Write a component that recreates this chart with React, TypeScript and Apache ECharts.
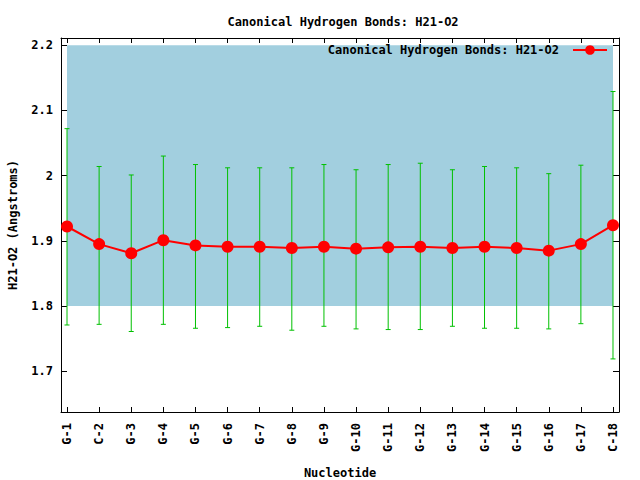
import React, { useEffect, useRef } from "react";
import * as echarts from "echarts";

const categories = ["G-1","C-2","G-3","G-4","G-5","G-6","G-7","G-8","G-9","G-10","G-11","G-12","G-13","G-14","G-15","G-16","G-17","C-18"];
const means = [1.922,1.895,1.881,1.901,1.893,1.891,1.891,1.889,1.891,1.888,1.890,1.891,1.889,1.891,1.889,1.885,1.895,1.924];
const lows = [1.771,1.772,1.761,1.772,1.766,1.767,1.769,1.763,1.769,1.765,1.764,1.764,1.769,1.766,1.766,1.765,1.773,1.719];
const highs = [2.072,2.014,2.001,2.030,2.017,2.012,2.012,2.012,2.017,2.009,2.017,2.019,2.009,2.014,2.012,2.003,2.016,2.129];
const yTicks = [1.7, 1.8, 1.9, 2.0, 2.1, 2.2];
const bandRange = [1.8, 2.2];
const title = "Canonical Hydrogen Bonds: H21-O2";

const FONT = "DejaVu Sans Mono";

export default function App() {
  const ref = useRef<HTMLDivElement>(null);
  useEffect(() => {
    if (!ref.current) return;
    const chart = echarts.init(ref.current, undefined, { renderer: "svg" });
    const xIdx = categories.map((_, i) => i);
    const xMin = -0.187, xMax = categories.length - 1 + 0.187;
    const yMin = 1.6376, yMax = 2.211;
    const txt = { fontFamily: FONT, fontWeight: "bold" as const, fontSize: 12, color: "#000" };
    const xCommon = {
      type: "value" as const,
      min: xMin,
      max: xMax,
      splitLine: { show: false },
      axisLine: { show: true, onZero: false, lineStyle: { color: "#000", width: 1 } },
      axisTick: { show: true, inside: true, length: 5, customValues: xIdx, lineStyle: { color: "#000" } },
    };
    const yCommon = {
      type: "value" as const,
      min: yMin,
      max: yMax,
      splitLine: { show: false },
      axisLine: { show: true, onZero: false, lineStyle: { color: "#000", width: 1 } },
      axisTick: { show: true, inside: true, length: 6, customValues: yTicks, lineStyle: { color: "#000" } },
    };
    chart.setOption({
      animation: false,
      backgroundColor: "#fff",
      title: {
        text: title,
        left: 338,
        textAlign: "center",
        top: 11,
        textStyle: { ...txt },
      },
      legend: {
        data: [{ name: title }],
        right: 27,
        top: 39,
        align: "right",
        itemWidth: 34,
        itemHeight: 12,
        itemGap: 0,
        textStyle: { ...txt, padding: [0, 9, 0, 0] },
      },
      grid: { left: 61, right: 21, top: 38, bottom: 68, containLabel: false, outerBoundsMode: "none" },
      xAxis: [
        {
          ...xCommon,
          position: "bottom",
          name: "Nucleotide",
          nameLocation: "middle",
          nameGap: 55,
          nameTextStyle: { ...txt },
          axisLabel: {
            ...txt,
            rotate: 90,
            margin: 11,
            customValues: xIdx,
            formatter: (v: number) => categories[Math.round(v)] ?? "",
          },
        },
        { ...xCommon, position: "top", axisLabel: { show: false } },
      ],
      yAxis: [
        {
          ...yCommon,
          position: "left",
          name: "H21-O2 (Angstroms)",
          nameLocation: "middle",
          nameGap: 42,
          nameTextStyle: { ...txt },
          axisLabel: {
            ...txt,
            margin: 8,
            customValues: yTicks,
            formatter: (v: number) => String(parseFloat(v.toFixed(1))),
          },
        },
        { ...yCommon, position: "right", axisLabel: { show: false } },
      ],
      series: [
        {
          name: "band",
          type: "line",
          data: [],
          z: 1,
          markArea: {
            silent: true,
            itemStyle: { color: "#a2cfdf" },
            data: [[{ coord: [0, bandRange[1]] }, { coord: [categories.length - 1, bandRange[0]] }]],
          },
        },
        {
          name: "err",
          type: "custom",
          z: 3,
          data: xIdx.map((i) => [i, lows[i], highs[i]]),
          encode: { x: 0, y: [1, 2] },
          renderItem: (params: any, api: any) => {
            const x = api.value(0);
            const lo = api.coord([x, api.value(1)]);
            const hi = api.coord([x, api.value(2)]);
            const w = 2.5;
            const style = { stroke: "#00c000", lineWidth: 1 };
            return {
              type: "group",
              children: [
                { type: "line", shape: { x1: lo[0], y1: lo[1], x2: hi[0], y2: hi[1] }, style },
                { type: "line", shape: { x1: lo[0] - w, y1: lo[1], x2: lo[0] + w, y2: lo[1] }, style },
                { type: "line", shape: { x1: hi[0] - w, y1: hi[1], x2: hi[0] + w, y2: hi[1] }, style },
              ],
            };
          },
        },
        {
          name: title,
          type: "line",
          z: 5,
          data: xIdx.map((i) => [i, means[i]]),
          symbol: "circle",
          symbolSize: 12,
          itemStyle: { color: "#ff0000" },
          lineStyle: { color: "#ff0000", width: 2 },
        },
      ],
    });
    return () => chart.dispose();
  }, []);
  return <div ref={ref} style={{ width: 640, height: 480, position: "absolute", left: 0, top: 0 }} />;
}
